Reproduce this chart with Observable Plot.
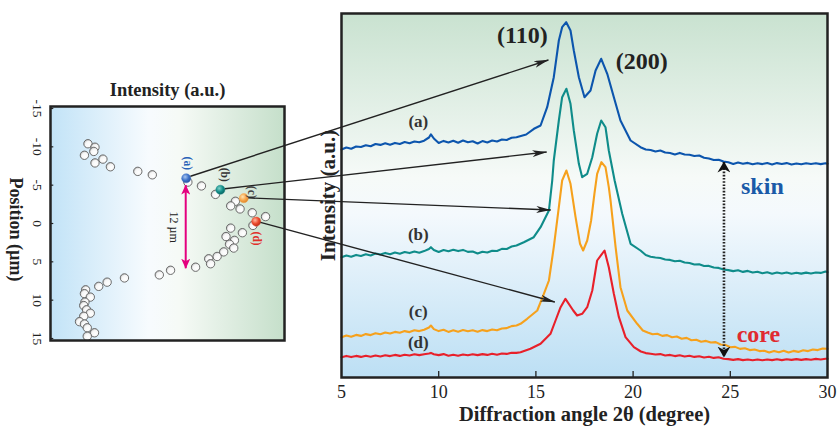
<!DOCTYPE html>
<html><head><meta charset="utf-8">
<script src="https://cdn.jsdelivr.net/npm/d3@7"></script>
<script src="https://cdn.jsdelivr.net/npm/@observablehq/plot@0.6"></script>
<style>
html,body{margin:0;padding:0;background:#fff;}
#wrap{position:relative;width:837px;height:426px;overflow:hidden;}
#wrap svg{position:absolute;left:0;top:0;background:transparent !important;max-width:none;}
</style></head><body><div id="wrap"></div>
<script>
// ---------- data ----------
const posTicks = [-15, -10, -5, 0, 5, 10, 15];
const angleTicks = [5, 10, 15, 20, 25, 30];

// depth profile (left panel)
const profilePos = [-10.4,-9.95,-9.4,-8.9,-8.4,-7.9,-7.4,-6.8,-6.35,-5.4,-4.9,-3.8,-2.9,-2.3,-1.9,-1.4,-0.9,0.25,0.6,1.2,1.7,2.2,2.7,3.2,3.7,4.3,4.6,5.25,5.7,6.1,6.7,7.1,7.65,8.2,8.65,9.15,9.6,10.25,10.7,11.25,11.7,12.1,12.8,13.1,13.6,14.25,14.7];
const profileInt = [16,19,18.5,14.5,22.4,19,25.6,37.3,43.5,58.7,64.5,70.5,79,77,81,86.2,91.9,86.5,77,82,75,78.6,76.5,78.3,74,71.2,67.6,68.4,62,51.3,46.5,31.6,24.2,20.6,15,14.5,17,14.7,14.2,15.4,17,14.2,12.4,14.5,15.7,18.8,15.7];

// highlighted measuring points (a)-(d)
const markLabel = ["a", "b", "c", "d"];
const markPos = [-5.9, -4.4, -3.3, -0.25];
const markInt = [58, 72.6, 82.6, 87.9];
const markColor = ["#3d72c8", "#128c88", "#f7a54a", "#ea4a30"];
const gapFrom = -4.95, gapTo = 5.9, gapInt = 58;

// XRD patterns (right panel): diffraction angle 2θ and intensity (a.u.)
const lowAngles = [5,5.25,5.5,5.75,6,6.25,6.5,6.75,7,7.25,7.5,7.75,8,8.25,8.5,8.75,9,9.25,9.5,9.6,9.75,10,10.25,10.5,10.75,11,11.25,11.5,11.75,12,12.25,12.5,12.75,13,13.25,13.5,13.75,14];
const highAngles = [20.65,20.9,21.15,21.4,21.65,21.9,22.15,22.4,22.65,22.9,23.15,23.4,23.65,23.9,24.15,24.4,24.65,24.9,25.15,25.4,25.65,25.9,26.15,26.4,26.65,26.9,27.15,27.4,27.65,27.9,28.15,28.4,28.65,28.9,29.15,29.4,29.65,29.9,30];
const highAnglesC = [20.5,20.75,21,21.25,21.5,21.75,22,22.25,22.5,22.75,23,23.25,23.5,23.75,24,24.25,24.5,24.75,25,25.25,25.5,25.75,26,26.25,26.5,26.75,27,27.25,27.5,27.75,28,28.25,28.5,28.75,29,29.25,29.5,29.75,30];

const aAngle = [...lowAngles, 14.5,14.9,15.24,15.58,15.92,16.18,16.35,16.56,16.78,16.95,17.21,17.5,17.81,18.07,18.36,18.67,19.01,19.35,19.87,20.38, ...highAngles];
const aInt = [228,230,228.8,231,230.5,232.3,231.2,233.5,232.6,234.3,232.8,234.6,233.5,235.4,234.2,236,235.2,236.8,240,243.2,239,234.5,236.6,235,236.8,234.8,237,235.3,236.2,234,236.4,235,237,236,238,237.5,239.8,240.3,
  243,248.7,252,270.3,300.3,337,350.3,355.3,347,327,300.3,280.3,287,307,318.7,303.7,280.3,257,237,230.3,
  228,227.5,226,227,225,224.5,223,224.6,223,222.8,221.5,222,219.8,219,217.5,217.8,216,215.3,213.6,215,213.8,214.6,213.2,214.2,213.4,214.5,213,214.4,213.5,214.4,213,214,213.3,214.3,213.5,214.2,213.4,214.2,213.7];

const bAngle = [...lowAngles, 14.38,14.89,15.24,15.67,15.84,15.92,16.18,16.35,16.57,16.78,16.95,17.21,17.38,17.64,17.9,18.15,18.36,18.58,18.75,19.05,19.44,19.87,20.38, ...highAngles];
const bInt = [120.3,122,120.8,122.6,121.5,123.2,122,124,123,124.6,123.2,125,123.8,125.5,124.4,126,124.8,126.4,128.5,130.3,127.5,125.5,127.4,126.2,127.8,126.4,127.6,125.6,126,124,125.8,125,126.8,126.5,128.6,128.5,131,132,
  135.3,140.3,150.3,167,197,217,257,280.3,288.7,273.7,247,213.7,200.3,203.7,220.3,243.7,257,250.3,227,197,163.7,133.7,127,
  122.5,120.8,120,119.5,118,117.6,116.2,116.8,115,114.5,113,113.2,111.5,111.6,110,109.6,108,107.4,106.4,107.2,105.6,106.6,105,105.8,104.2,105.2,103.8,105,104,105,103.8,104.8,103.9,104.9,104,105,104.6,106,105.3];

const cAngle = [...lowAngles, 14.21,14.55,15.07,15.41,15.67,15.92,16.18,16.35,16.57,16.78,17.04,17.27,17.43,17.64,17.84,18.01,18.15,18.37,18.58,18.75,18.84,19.1,19.35,19.7,20.21, ...highAnglesC];
const cInt = [40.3,42,40.8,42.6,41.6,43.4,42.4,44.2,43.2,45,44,45.6,44.8,46.4,45.4,47.2,46.4,47.8,50,52,48.4,46.4,47.8,45.6,47.2,45.8,47.4,46.2,47.2,45.8,47.4,46.4,48,47.2,49,49.4,51.4,52,
  53.7,58.7,67,83.7,97,130.3,170.3,197,207,193.7,160.3,133.7,127,137,157,183.7,203.7,215.3,210.3,190.3,177,130.3,90.3,67,53.7,
  47,45,43.2,43.8,41.6,42.4,40.2,41,38.8,39.6,37.2,37.8,35.8,36.6,35,35.4,33,32.6,30.2,30.6,28.6,29.2,27.4,28,26.4,26.8,25,26.6,25.2,26.8,25,26.6,25.6,27.2,26.4,28,27.4,29,28.7];

const dAngle = [...lowAngles, 14.21,14.72,15.24,15.75,16.01,16.27,16.52,16.92,17.12,17.38,17.64,17.9,18.15,18.53,18.75,19.01,19.27,19.61,20.04, 20.4, ...highAngles];
const dInt = [20.3,21.6,20.4,21.6,20.6,21.8,20.8,22,21,22.2,21.4,22.6,21.6,22.8,22,23.2,22.4,23.2,24,24.6,23.2,22.4,23.4,21.8,22.8,21.8,23,22.2,23.2,22.4,23.4,22.6,23.8,22.8,24,23.6,24.8,24.6,
  25.3,28.7,33.7,43.7,57,70.3,78.7,67,62,63.7,70.3,87,117,127,110.3,83.7,60.3,40.3,30.3,
  26,24.4,23.7,23,23.4,22,22.6,21.4,22.2,21,21.8,20.6,21.2,20,20.8,19.6,20.2,18.8,18.4,17.6,18.4,17.4,18,17.2,18,17.2,18,17.4,18.2,17.4,18.2,17.6,18.4,17.6,18.4,17.8,18.6,18,18.8,18.7];
const curveColor = ["#0c55ad", "#0f8c8a", "#f6a11c", "#e8202a"];

// annotations
const curveLabels = ["(a)", "(b)", "(c)", "(d)"];
const curveLabelAngle = [8.95, 8.95, 8.95, 8.95];
const curveLabelInt = [256, 143, 66, 35];
const peakLabels = ["(110)", "(200)"];
const peakAngle = [14.3, 20.45];
const peakInt = [342, 316];
const targetAngle = [15.67, 15.58, 15.79, 16.0];
const targetInt = [317, 225, 167, 75];
const skinCoreAngle = 24.7, skinInt = 215, coreInt = 20;
const zoneLabels = ["skin", "core"];
const zoneAngle = [26.65, 26.45];
const zoneInt = [191, 43];
const zoneColor = ["#1a5aa8", "#e02a30"];

// ---------- build ----------
const serif = '"Liberation Serif","Times New Roman",serif';
const wrap = document.getElementById("wrap");
const zip = (xs, ys) => xs.map((x, i) => ({angle: x, intensity: ys[i]}));
const curves = [zip(aAngle, aInt), zip(bAngle, bInt), zip(cAngle, cInt), zip(dAngle, dInt)];
const profile = profilePos.map((p, i) => ({position: p, intensity: profileInt[i]}));
const marked = markLabel.map((l, i) => ({label: l, position: markPos[i], intensity: markInt[i], color: markColor[i]}));

const defsHTML = `
<linearGradient id="gradL" x1="0" y1="0" x2="1" y2="0">
  <stop offset="0" stop-color="#c2e3f7"/><stop offset="0.42" stop-color="#f7fbfe"/>
  <stop offset="0.55" stop-color="#f6faf6"/><stop offset="1" stop-color="#c5dfca"/></linearGradient>
<linearGradient id="gradR" x1="0" y1="0" x2="0" y2="1">
  <stop offset="0" stop-color="#c9e2d0"/><stop offset="0.45" stop-color="#f6faf8"/>
  <stop offset="0.55" stop-color="#f4f9fd"/><stop offset="1" stop-color="#bcdff4"/></linearGradient>
<radialGradient id="ballW" cx="0.6" cy="0.62" r="0.75">
  <stop offset="0" stop-color="#ffffff"/><stop offset="0.55" stop-color="#f6f6f6"/><stop offset="1" stop-color="#9a9a9a"/></radialGradient>
<radialGradient id="ball_a" cx="0.38" cy="0.35" r="0.7">
  <stop offset="0" stop-color="#a8c6f0"/><stop offset="0.55" stop-color="#3d72c8"/><stop offset="1" stop-color="#28509a"/></radialGradient>
<radialGradient id="ball_b" cx="0.38" cy="0.35" r="0.7">
  <stop offset="0" stop-color="#7fd2ca"/><stop offset="0.55" stop-color="#138e89"/><stop offset="1" stop-color="#0a5e5b"/></radialGradient>
<radialGradient id="ball_c" cx="0.38" cy="0.35" r="0.7">
  <stop offset="0" stop-color="#ffe3b0"/><stop offset="0.55" stop-color="#f7a54a"/><stop offset="1" stop-color="#d98226"/></radialGradient>
<radialGradient id="ball_d" cx="0.38" cy="0.35" r="0.7">
  <stop offset="0" stop-color="#ffb8a0"/><stop offset="0.55" stop-color="#ec4a2e"/><stop offset="1" stop-color="#b52b16"/></radialGradient>`;

function addDefs(svg) {
  const d = document.createElementNS("http://www.w3.org/2000/svg", "defs");
  d.innerHTML = defsHTML;
  svg.insertBefore(d, svg.firstChild);
}

const labelOffsets = {a: [1, -15, "#2a62b8"], b: [4, -15, "#333"], c: [8, -6, "#444"], d: [1, 17, "#e0302a"]};

const left = Plot.plot({
  width: 300, height: 426,
  marginLeft: 50, marginRight: 16, marginTop: 106, marginBottom: 86,
  x: {domain: [0, 100], axis: null},
  y: {domain: [-15.26, 15.26], reverse: true, axis: null},
  color: {type: "identity"},
  style: {fontFamily: serif, background: "transparent"},
  marks: [
    Plot.frame({fill: "url(#gradL)", stroke: "none"}),
    Plot.ruleY(posTicks, {y: d => d, x1: 0, x2: 1.4, stroke: "#222", strokeWidth: 1.2}),
    Plot.dot(profile, {x: "intensity", y: "position", r: 4.2, fill: "url(#ballW)", stroke: "#5e5e5e", strokeWidth: 0.9}),
    Plot.dot(marked, {x: "intensity", y: "position", r: 4.6, fill: d => `url(#ball_${d.label})`, stroke: d => d.color, strokeWidth: 0.4}),
    ...marked.map(m => Plot.text([m], {x: "intensity", y: "position", text: d => `(${d.label})`, rotate: 90,
      dx: labelOffsets[m.label][0], dy: labelOffsets[m.label][1], fill: labelOffsets[m.label][2], fontSize: 11.5, fontWeight: "bold"})),
    Plot.text(["12 µm"], {x: gapInt, y: (gapFrom + gapTo) / 2, dx: -12, rotate: 90, fontSize: 12, fill: "#222"}),
    Plot.frame({stroke: "#222", strokeWidth: 2.5}),
    Plot.text(posTicks, {x: 0, y: d => d, dx: -13, rotate: 90, text: d => String(d), fontSize: 13.5, fill: "#222"}),
    Plot.text(["Position (µm)"], {frameAnchor: "left", textAnchor: "middle", dx: -35, dy: 6, rotate: 90, fontSize: 18, fontWeight: "bold", fill: "#222"}),
    Plot.text(["Intensity (a.u.)"], {frameAnchor: "top", textAnchor: "middle", lineAnchor: "middle", dy: -16, fontSize: 18.5, fontWeight: "bold", fill: "#222"})
  ]
});
addDefs(left);
wrap.appendChild(left);

const right = Plot.plot({
  width: 837, height: 426,
  marginLeft: 341, marginRight: 10, marginTop: 13, marginBottom: 49,
  x: {domain: [5, 30], axis: null},
  y: {domain: [0, 364], axis: null},
  style: {fontFamily: serif, background: "transparent"},
  marks: [
    Plot.frame({fill: "url(#gradR)", stroke: "none"}),
    ...curves.map((c, i) => Plot.line(c, {x: "angle", y: "intensity", stroke: curveColor[i], strokeWidth: 2.1, strokeLinejoin: "round"})),
    Plot.ruleX(angleTicks.slice(1, -1), {x: d => d, y1: 0, y2: 6, stroke: "#222", strokeWidth: 1.3}),
    Plot.frame({stroke: "#222", strokeWidth: 2.5}),
    Plot.text(angleTicks, {x: d => d, frameAnchor: "bottom", lineAnchor: "middle", dy: 15, text: d => String(d), fontSize: 18, fill: "#222"}),
    Plot.text(["Diffraction angle 2θ (degree)"], {frameAnchor: "bottom", lineAnchor: "middle", dy: 37, fontSize: 20.5, fontWeight: "bold", fill: "#222"}),
    Plot.text(["Intensity (a.u.)"], {frameAnchor: "left", textAnchor: "middle", dx: -13, rotate: -90, fontSize: 21, fontWeight: "bold", fill: "#222"}),
    Plot.text(peakLabels, {x: (d, i) => peakAngle[i], y: (d, i) => peakInt[i], text: d => d, fontSize: 24, fontWeight: "bold", fill: "#222"}),
    Plot.text(curveLabels, {x: (d, i) => curveLabelAngle[i], y: (d, i) => curveLabelInt[i], text: d => d, fontSize: 17, fontWeight: "bold", fill: "#333"}),
    Plot.text(zoneLabels, {x: (d, i) => zoneAngle[i], y: (d, i) => zoneInt[i], text: d => d, fill: (d, i) => zoneColor[i], fontSize: 24, fontWeight: "bold"})
  ]
});
addDefs(right);
wrap.appendChild(right);

// ---------- overlay arrows ----------
const lx = v => left.scale("x").apply(v), ly = v => left.scale("y").apply(v);
const rx = v => right.scale("x").apply(v), ry = v => right.scale("y").apply(v);

const ov = d3.select(wrap).append("svg").attr("width", 837).attr("height", 426);
const defs = ov.append("defs");
function marker(id, w, h, notch, color) {
  defs.append("marker").attr("id", id).attr("viewBox", `0 0 ${w} ${h}`)
    .attr("refX", w - 0.5).attr("refY", h / 2).attr("markerWidth", w).attr("markerHeight", h)
    .attr("markerUnits", "userSpaceOnUse").attr("orient", "auto-start-reverse")
    .append("path").attr("d", `M0,0 L${w},${h / 2} L0,${h} L${notch},${h / 2} Z`).attr("fill", color);
}
marker("hk", 15, 7, 4, "#222");
marker("hm", 10, 9, 2.5, "#e4007f");
marker("hd", 11, 13, 3.5, "#111");

marked.forEach((m, i) => {
  const x0 = lx(m.intensity), y0 = ly(m.position);
  const x1 = rx(targetAngle[i]), y1 = ry(targetInt[i]);
  const L = Math.hypot(x1 - x0, y1 - y0), r = 5;
  ov.append("line").attr("x1", x0 + (x1 - x0) * r / L).attr("y1", y0 + (y1 - y0) * r / L)
    .attr("x2", x1).attr("y2", y1).attr("stroke", "#222").attr("stroke-width", 1.4)
    .attr("marker-end", "url(#hk)");
});

ov.append("line").attr("x1", lx(gapInt)).attr("x2", lx(gapInt))
  .attr("y1", ly(gapFrom)).attr("y2", ly(gapTo)).attr("stroke", "#e4007f").attr("stroke-width", 2)
  .attr("marker-start", "url(#hm)").attr("marker-end", "url(#hm)");

ov.append("line").attr("x1", rx(skinCoreAngle)).attr("x2", rx(skinCoreAngle))
  .attr("y1", ry(skinInt)).attr("y2", ry(coreInt)).attr("stroke", "#222").attr("stroke-width", 2.6)
  .attr("stroke-dasharray", "1.6,1.6")
  .attr("marker-start", "url(#hd)").attr("marker-end", "url(#hd)");
</script>
</body></html>
